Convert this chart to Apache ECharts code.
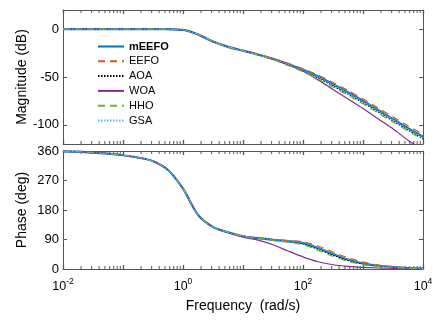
<!DOCTYPE html>
<html>
<head>
<meta charset="utf-8">
<script src="https://cdn.jsdelivr.net/npm/echarts@6/dist/echarts.min.js"></script>
<style>
  html, body { margin: 0; padding: 0; background: #fff; }
  #chart { width: 443px; height: 322px; }
</style>
</head>
<body>
<div id="chart"></div>
<script>
// frequency points (rad/s), quarter decades from 1e-2 to 1e4
var freq = [0.01, 0.0178, 0.0316, 0.0562, 0.1, 0.178, 0.316, 0.562, 1, 1.78, 3.16, 5.62,
  10, 17.8, 31.6, 56.2, 100, 178, 316, 562, 1000, 1780, 3160, 5620, 10000];

var names = ["mEEFO", "EEFO", "AOA", "WOA", "HHO", "GSA"];

// magnitude (dB)
var magMEEFO = [0, 0, 0, 0, 0, 0, 0, -0.1, -0.8, -5.5, -13, -18.5, -22.5, -26.5, -31, -36.5, -42.5, -49.5, -57.5, -66, -75, -84.5, -94, -103.5, -112.5];
var magEEFO  = [0, 0, 0, 0, 0, 0, 0, -0.1, -0.8, -5.5, -13, -18.5, -22.3, -26.2, -30.5, -35.7, -41.5, -48, -55.7, -64, -73, -82.3, -91.7, -101, -110];
var magAOA   = [0, 0, 0, 0, 0, 0, 0, -0.1, -0.8, -5.5, -13, -18.5, -22.6, -26.8, -31.5, -37.3, -43.5, -51, -59.3, -68, -77, -86.5, -96, -105.5, -114.5];
var magWOA   = [0, 0, 0, 0, 0, 0, 0, -0.1, -0.8, -5.5, -13, -18.5, -22.6, -26.8, -31.5, -37.5, -44, -53, -63, -73, -83, -93.5, -104, -116, -126];
var magHHO   = [0, 0, 0, 0, 0, 0, 0, -0.1, -0.8, -5.5, -13, -18.5, -22.7, -27, -32, -38, -44.5, -52, -60.5, -69, -78, -87.5, -97, -106.3, -115.5];
var magGSA   = [0, 0, 0, 0, 0, 0, 0, -0.1, -0.8, -5.5, -13, -18.5, -22.5, -26.5, -31, -36.7, -42.8, -49.8, -57.8, -66.4, -75.4, -84.9, -94.4, -104, -113];

// phase (deg)
var phMEEFO = [359, 358, 355, 352, 347, 340, 329, 302, 245, 165, 128, 112, 100, 94, 89, 85, 79, 64, 46, 29, 17, 10, 6, 3, 1.5];
var phEEFO  = [359, 358, 355, 352, 347, 340, 329, 302, 245, 165, 128, 112, 100, 94.5, 90, 87, 83, 70, 52, 34, 21, 12.5, 7, 3.5, 1.8];
var phAOA   = [359, 358, 355, 352, 347, 340, 329, 302, 245, 165, 128, 112, 100, 93.5, 88, 83.5, 76.5, 60, 42, 26, 15, 9, 5, 2.5, 1.3];
var phWOA   = [359, 358, 355, 352, 347, 340, 329, 302, 245, 165, 128, 111, 97, 88, 74, 55, 37, 22, 13, 8, 5, 3, 2, 1, 0.5];
var phHHO   = [359, 358, 355, 352, 347, 340, 329, 302, 245, 165, 128, 112, 99.5, 93, 87, 82, 74, 57, 39, 23, 13.5, 8, 4.5, 2.3, 1.2];
var phGSA   = [359, 358, 355, 352, 347, 340, 329, 302, 245, 165, 128, 112, 100, 94, 89, 85, 79.5, 65, 47, 30, 17.5, 10, 6, 3, 1.5];

var magTicks = [-100, -50, 0];
var phaseTicks = [0, 90, 180, 270, 360];

var mags = [magMEEFO, magEEFO, magAOA, magWOA, magHHO, magGSA];
var phases = [phMEEFO, phEEFO, phAOA, phWOA, phHHO, phGSA];

var styles = [
  { color: "#0072BD", width: 2.2, type: "solid" },
  { color: "#D95319", width: 1.2, type: [7, 5] },
  { color: "#000000", width: 1.1, type: [1.5, 1.5] },
  { color: "#7E2F8E", width: 1.2, type: "solid" },
  { color: "#77AC30", width: 1.2, type: [7, 5] },
  { color: "#4DBEEE", width: 1.1, type: [1.5, 1.5] }
];

// minor tick positions for the log axis (2..9 within each decade)
var minorTicks = [];
for (var d = -2; d < 4; d++) {
  for (var m = 2; m <= 9; m++) {
    minorTicks.push([m * Math.pow(10, d), 0]);
  }
}

var frameColor = "#555555";
var font = "Liberation Sans, Arial, sans-serif";

var myChart = echarts.init(document.getElementById("chart"), null, { renderer: "canvas" });

function pairs(ys) {
  var out = [];
  for (var i = 0; i < freq.length; i++) out.push([freq[i], ys[i]]);
  return out;
}

function logAxis(gridIndex, pos, showLabel) {
  var ax = {
    type: "log",
    logBase: 10,
    gridIndex: gridIndex,
    position: pos,
    min: 0.01,
    max: 10000,
    interval: 1,
    axisLine: { show: true, onZero: false, lineStyle: { color: frameColor, width: 1 } },
    axisTick: { show: true, inside: true, length: 4, lineStyle: { color: frameColor, width: 1.3 } },
    splitLine: { show: false },
    axisLabel: { show: false }
  };
  if (showLabel) {
    ax.axisLabel = {
      show: true,
      margin: 8,
      color: "#000",
      formatter: function (v) {
        var e = Math.round(Math.log10(v));
        if (e % 2 !== 0) return "";
        return "{b|10}{s|" + e + "}";
      },
      rich: {
        b: { fontSize: 12.5, fontFamily: font, color: "#000", lineHeight: 16, verticalAlign: "bottom" },
        s: { fontSize: 8.5, fontFamily: font, color: "#000", verticalAlign: "top", lineHeight: 10 }
      }
    };
    ax.name = "Frequency  (rad/s)";
    ax.nameLocation = "middle";
    ax.nameGap = 30;
    ax.nameMoveOverlap = false;
    ax.nameTextStyle = { fontSize: 14, fontFamily: font, color: "#000" };
  }
  return ax;
}

function valAxis(gridIndex, pos, min, max, interval, ticks, name, showLabel) {
  var ax = {
    type: "value",
    gridIndex: gridIndex,
    position: pos,
    min: min,
    max: max,
    interval: interval,
    axisLine: { show: true, lineStyle: { color: frameColor, width: 1 } },
    axisTick: { show: true, inside: true, length: 4, customValues: ticks, lineStyle: { color: frameColor } },
    splitLine: { show: false },
    axisLabel: { show: false }
  };
  if (showLabel) {
    ax.axisLabel = {
      show: true,
      margin: 4,
      color: "#000",
      fontSize: 13,
      fontFamily: font,
      customValues: ticks
    };
    ax.name = name;
    ax.nameLocation = "middle";
    ax.nameGap = 34;
    ax.nameMoveOverlap = false;
    ax.nameTextStyle = { fontSize: 14, fontFamily: font, color: "#000" };
  }
  return ax;
}

var series = [];
for (var i = 0; i < names.length; i++) {
  var lineStyle = { color: styles[i].color, width: styles[i].width, type: styles[i].type };
  series.push({
    name: names[i], type: "line", xAxisIndex: 0, yAxisIndex: 0,
    data: pairs(mags[i]), showSymbol: false, symbol: "none", smooth: 0.3,
    lineStyle: lineStyle, itemStyle: { color: styles[i].color }, clip: true
  });
  series.push({
    name: names[i], type: "line", xAxisIndex: 2, yAxisIndex: 2,
    data: pairs(phases[i]), showSymbol: false, symbol: "none", smooth: 0.3,
    lineStyle: lineStyle, itemStyle: { color: styles[i].color }, clip: true
  });
}

// minor log ticks on top and bottom edge of each panel
function minorTickSeries(xIdx, yIdx) {
  return {
    type: "custom",
    xAxisIndex: xIdx,
    yAxisIndex: yIdx,
    silent: true,
    data: minorTicks,
    renderItem: function (params, api) {
      var cs = params.coordSys;
      var p = api.coord([api.value(0), api.value(1)]);
      var style = { stroke: frameColor, lineWidth: 1 };
      return {
        type: "group",
        children: [
          { type: "line", shape: { x1: p[0], y1: cs.y + cs.height, x2: p[0], y2: cs.y + cs.height - 3 }, style: style },
          { type: "line", shape: { x1: p[0], y1: cs.y, x2: p[0], y2: cs.y + 3 }, style: style }
        ]
      };
    }
  };
}
series.push(minorTickSeries(0, 0));
series.push(minorTickSeries(2, 2));

var option = {
  animation: false,
  backgroundColor: "#fff",
  grid: [
    { left: 63, top: 10, width: 360, height: 134 },
    { left: 63, top: 151, width: 360, height: 118 }
  ],
  legend: {
    data: names,
    orient: "vertical",
    left: 97,
    top: 41,
    padding: 0,
    itemWidth: 26,
    itemHeight: 10,
    itemGap: 3.8,
    itemStyle: { opacity: 0 },
    formatter: function (n) {
      return n === "mEEFO" ? "{bold|" + n + "}" : n;
    },
    textStyle: {
      fontSize: 11, fontFamily: font, color: "#000",
      rich: { bold: { fontSize: 11, fontWeight: "bold", fontFamily: font, color: "#000" } }
    }
  },
  xAxis: [
    logAxis(0, "bottom", false),
    logAxis(0, "top", false),
    logAxis(1, "bottom", true),
    logAxis(1, "top", false)
  ],
  yAxis: [
    valAxis(0, "left", -120, 20, 10, magTicks, "Magnitude (dB)", true),
    valAxis(0, "right", -120, 20, 10, magTicks, "", false),
    valAxis(1, "left", 0, 360, 90, phaseTicks, "Phase (deg)", true),
    valAxis(1, "right", 0, 360, 90, phaseTicks, "", false)
  ],
  series: series
};

myChart.setOption(option);
</script>
</body>
</html>
